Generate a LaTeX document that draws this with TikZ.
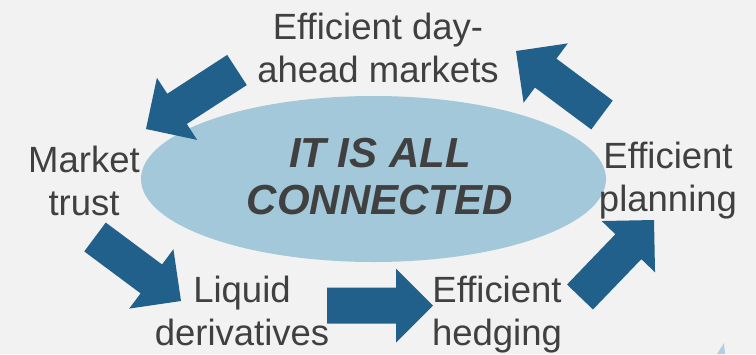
\documentclass[tikz,border=0pt]{standalone}
\usepackage{fontspec}
\setmainfont{Liberation Sans}
\usetikzlibrary{calc,positioning,shapes.geometric}

\definecolor{bggray}{RGB}{242,242,242}
\definecolor{arrowblue}{RGB}{34,96,140}
\definecolor{ovalblue}{RGB}{163,200,218}
\definecolor{textgray}{RGB}{64,64,64}

% fat block arrow from tail coordinate #1 to tip coordinate #2
\newcommand{\blockarrow}[2]{%
  \coordinate (#1-#2-j) at ($(#2)!37pt!(#1)$);
  \fill[arrowblue] ($(#1)!18pt!90:(#2)$) -- ($(#1-#2-j)!18pt!90:(#2)$)
    -- ($(#1-#2-j)!37pt!90:(#2)$) -- (#2) -- ($(#1-#2-j)!37pt!-90:(#2)$)
    -- ($(#1-#2-j)!18pt!-90:(#2)$) -- ($(#1)!18pt!-90:(#2)$) -- cycle;}

\begin{document}
\begin{tikzpicture}[
        x=1pt, y=-1pt,
        every node/.style={text=textgray, align=center, inner sep=0pt},
        label/.style={font=\fontsize{36.5}{43}\selectfont},
        hub/.style={ellipse, fill=ovalblue, minimum width=465pt, minimum height=166pt}
    ]
    \useasboundingbox (0,0) rectangle (756,354);
    \fill[bggray] (0,0) rectangle (756,354);

    % Hub
    \node (hub)[hub] at (373.5,179) {};
    \node (hubtext)[font=\fontsize{42}{47}\selectfont\bfseries\itshape] at (380,177) {IT IS ALL\\CONNECTED};

    % Labels
    \node (markets)[label] at (378,48) {Efficient day-\\ahead markets};
    \node (trust)[label] at (84,181) {Market\\trust};
    \node (planning)[label] at (668,181) {Efficient\\planning};
    \node (derivs)[label] at (242,311) {Liquid\\derivatives};
    \node (hedging)[label] at (497,315) {Efficient\\hedging};

    % Arrow ends
    \coordinate (a1t) at (237,70);   \coordinate (a1h) at (146,129);
    \coordinate (a2t) at (602,115);  \coordinate (a2h) at (516,51);
    \coordinate (a3t) at (95,237);   \coordinate (a3h) at (181,301);
    \coordinate (a4t) at (327,305.5);\coordinate (a4h) at (433,305.5);
    \coordinate (a5t) at (580,297);  \coordinate (a5h) at (654,220);

    % Arrows
    \blockarrow{a1t}{a1h}
    \blockarrow{a2t}{a2h}
    \blockarrow{a3t}{a3h}
    \blockarrow{a4t}{a4h}
    \blockarrow{a5t}{a5h}

    % corner sliver
    \fill[ovalblue!85] (724,343) -- (717,354) -- (725,354) -- cycle;
\end{tikzpicture}
\end{document}
